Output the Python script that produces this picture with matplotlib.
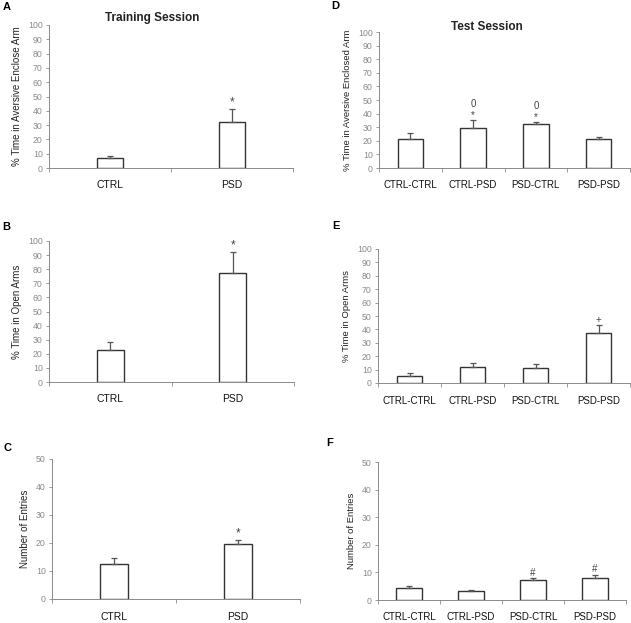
import matplotlib
matplotlib.use("Agg")
import matplotlib.pyplot as plt
import numpy as np

plt.rcParams['font.family'] = ['Liberation Sans', 'DejaVu Sans']

train_cats = ["CTRL", "PSD"]
test_cats = ["CTRL-CTRL", "CTRL-PSD", "PSD-CTRL", "PSD-PSD"]

A_vals = [7, 32];            A_err = [1.5, 9.5]
B_vals = [23, 77.5];         B_err = [5.5, 14.5]
C_vals = [12.5, 19.5];       C_err = [2.0, 1.5]
D_vals = [21, 29.5, 32, 21]; D_err = [5, 5.5, 1.5, 1.5]
E_vals = [5.5, 12, 11.5, 37.5]; E_err = [2, 3, 3, 5.5]
F_vals = [4.3, 3.2, 7.2, 8];  F_err = [0.7, 0.3, 0.6, 1.0]

A_marks = ["", "*"]
B_marks = ["", "*"]
C_marks = ["", "*"]
D_marks = ["", "0\n*", "0\n*", ""]
E_marks = ["", "", "", "+"]
F_marks = ["", "", "#", "#"]

W, H = 631, 623
fig = plt.figure(figsize=(W/100, H/100), dpi=100)

def rect(l, r, t, b):
    return [l/W, 1 - b/H, (r-l)/W, (b-t)/H]

grey = "#8a8a8a"

def panel(box, cats, vals, errs, marks, ymax, ylabel, letter, letter_xy, bw,
          title=None, title_xy=None, ylab_size=7, cat_size=7.5, mark_size=8.5):
    ax = fig.add_axes(rect(*box))
    x = np.arange(len(cats))
    ax.bar(x, vals, width=bw, color="white", edgecolor="#333333", linewidth=1.0, zorder=2)
    ax.errorbar(x, vals, yerr=[np.zeros(len(vals)), errs], fmt="none",
                ecolor="#555555", elinewidth=0.9, capsize=2.5, capthick=0.9, zorder=3)
    for xi, v, e, m in zip(x, vals, errs, marks):
        if m:
            ax.text(xi, v + e + ymax*0.005, m, ha="center", va="bottom",
                    fontsize=mark_size, color="#444444", linespacing=1.15)
    ax.set_xlim(-0.5, len(cats) - 0.5)
    ax.set_ylim(0, ymax)
    step = 10
    ax.set_yticks(np.arange(0, ymax + 1, step))
    ax.tick_params(axis="y", labelsize=6.3, colors=grey, length=2.5, width=0.6, pad=2)
    ax.set_xticks(x)
    ax.set_xticklabels(cats, fontsize=cat_size, color="#111111")
    ax.set_xticks(np.arange(-0.5, len(cats)), minor=True)
    ax.tick_params(axis="x", which="major", length=0, pad=9)
    ax.tick_params(axis="x", which="minor", length=3, width=0.6, color=grey)
    for s in ["top", "right"]:
        ax.spines[s].set_visible(False)
    for s in ["left", "bottom"]:
        ax.spines[s].set_color(grey)
        ax.spines[s].set_linewidth(0.7)
    ax.set_ylabel(ylabel, fontsize=ylab_size, color="#222222", labelpad=4)
    fig.text(letter_xy[0]/W, 1 - letter_xy[1]/H, letter, fontsize=8, fontweight="bold",
             ha="left", va="center")
    if title:
        fig.text(title_xy[0]/W, 1 - title_xy[1]/H, title, fontsize=8.5, fontweight="bold",
                 ha="center", va="center", color="#222222")
    return ax

panel((49, 293, 25, 168), train_cats, A_vals, A_err, A_marks, 100,
      "% Time in Aversive Enclose Arm", "A", (3, 7), 0.22,
      title="Training Session", title_xy=(152, 18))
panel((49, 294, 241, 382), train_cats, B_vals, B_err, B_marks, 100,
      "% Time in Open Arms", "B", (2, 227), 0.22)
panel((52, 300, 459, 599), train_cats, C_vals, C_err, C_marks, 50,
      "Number of Entries", "C", (3, 448), 0.22)
panel((379, 630, 32, 168), test_cats, D_vals, D_err, D_marks, 100,
      "% Time in Aversive Enclosed Arm", "D", (331, 6), 0.41,
      title="Test Session", title_xy=(487, 27), ylab_size=6.8, cat_size=7, mark_size=7)
panel((378, 630, 249, 383), test_cats, E_vals, E_err, E_marks, 100,
      "% Time in Open Arms", "E", (332, 226), 0.41, ylab_size=6.8, cat_size=7, mark_size=7)
panel((378, 626, 462, 600), test_cats, F_vals, F_err, F_marks, 50,
      "Number of Entries", "F", (326, 443), 0.41, ylab_size=6.8, cat_size=7, mark_size=7)

fig.savefig("out.png", dpi=100)
